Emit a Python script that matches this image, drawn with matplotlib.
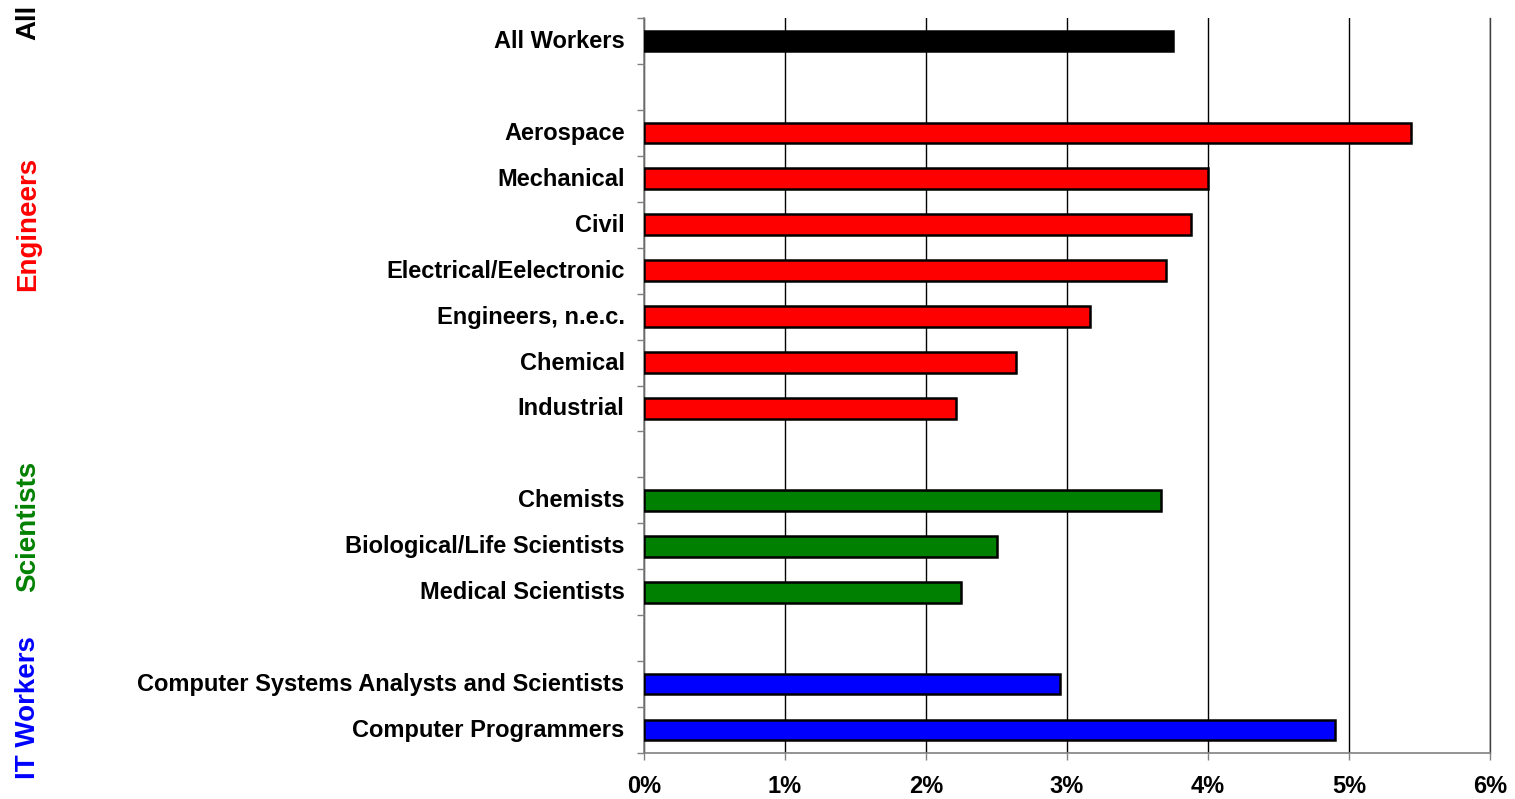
import matplotlib
matplotlib.use("Agg")
import matplotlib.pyplot as plt
import matplotlib.transforms as mtransforms
import numpy as np

categories = ["All Workers", "", "Aerospace", "Mechanical", "Civil", "Electrical/Eelectronic",
              "Engineers, n.e.c.", "Chemical", "Industrial", "", "Chemists",
              "Biological/Life Scientists", "Medical Scientists", "",
              "Computer Systems Analysts and Scientists", "Computer Programmers"]
values = [3.75, np.nan, 5.44, 4.00, 3.88, 3.70, 3.16, 2.64, 2.21, np.nan, 3.67,
          2.50, 2.25, np.nan, 2.95, 4.90]
colors = ["#000000", "none", "#ff0000", "#ff0000", "#ff0000", "#ff0000", "#ff0000",
          "#ff0000", "#ff0000", "none", "#008000", "#008000", "#008000", "none",
          "#0000ff", "#0000ff"]
groups = ["All", "Engineers", "Scientists", "IT Workers"]
group_colors = ["#000000", "#ff0000", "#008000", "#0000ff"]
group_centers_px = [22, 224, 526, 708]
xticks = [0, 1, 2, 3, 4, 5, 6]
xticklabels = ["0%", "1%", "2%", "3%", "4%", "5%", "6%"]

plt.rcParams['font.family'] = ['Liberation Sans', 'DejaVu Sans']
W, H = 1515, 799
fig = plt.figure(figsize=(W / 100, H / 100), dpi=100)
ax = fig.add_axes([644 / W, 46 / H, (1490 - 644) / W, (753 - 18) / H])

y = np.arange(len(categories))
for yi, v, c in zip(y, values, colors):
    if np.isnan(v):
        continue
    ax.barh(yi, v, height=0.45, color=c, edgecolor="black", linewidth=1.8, zorder=3)

ax.set_ylim(len(categories) - 0.5, -0.5)
ax.set_xlim(0, 6)
ax.set_xticks(xticks)
ax.set_xticklabels(xticklabels, fontsize=17, fontweight="bold")
ax.set_yticks(y)
ax.set_yticklabels(categories, fontsize=17, fontweight="bold")
ax.tick_params(axis="y", length=0, pad=14)
ax.set_yticks(np.arange(-0.5, len(categories), 1), minor=True)
ax.tick_params(axis="y", which="minor", length=5, width=1, color="#808080")
ax.tick_params(axis="x", length=5, width=1, color="#808080", pad=11)
ax.grid(axis="x", color="black", linewidth=1, zorder=0)
for s in ["top", "right"]:
    ax.spines[s].set_visible(False)
ax.spines["left"].set_color("#808080")
ax.spines["bottom"].set_color("#808080")
ax.spines["left"].set_linewidth(1.2)
ax.spines["bottom"].set_linewidth(1.2)
ax.axvline(6, color="#404040", linewidth=1, clip_on=False, zorder=0)

shift = mtransforms.ScaledTranslation(0, 2 / 100, fig.dpi_scale_trans)
for lab in ax.get_yticklabels():
    lab.set_transform(lab.get_transform() + shift)

for g, gc, py in zip(groups, group_colors, group_centers_px):
    fig.text(28 / W, 1 - py / H, g, rotation=90, color=gc, fontsize=20,
             fontweight="bold", ha="center", va="center")

fig.savefig("out.png", dpi=100)
